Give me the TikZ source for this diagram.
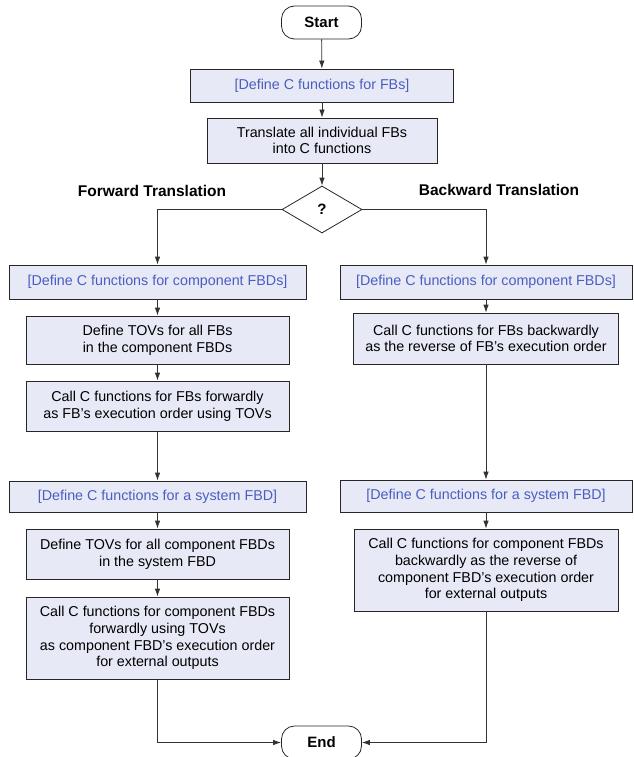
\documentclass[tikz,border=0pt]{standalone}
\usepackage{fontspec}
\setmainfont{Liberation Sans}
\usetikzlibrary{positioning, arrows.meta, shapes.geometric}
\definecolor{lila}{HTML}{E7E9F7}
\definecolor{azul}{HTML}{4A5EC0}
\definecolor{linea}{HTML}{333333}

\begin{document}
\begin{tikzpicture}[x=1pt, y=-1pt,
        link/.style={draw=linea, line width=0.8pt, -{Latex[length=8pt, width=5.5pt]}},
        box/.style={draw=black!85, line width=0.8pt, fill=lila, inner sep=0pt, align=center,
            font=\fontsize{14.3}{16.7}\selectfont},
        tag/.style={box, text=azul},
        term/.style={draw=black!85, line width=0.8pt, rounded corners=13pt, minimum width=80pt,
            minimum height=33pt, inner sep=0pt, font=\bfseries\fontsize{15}{18}\selectfont},
        side/.style={font=\bfseries\fontsize{15.5}{18}\selectfont}]
    \useasboundingbox (0,0) rectangle (633,757);
    % top part
    \node[term] (start) at (321.5,22.5) {Start};
    \node[tag, minimum width=263pt, minimum height=33pt] (defFB) at (322,85.5) {[Define C functions for FBs]};
    \node[box, minimum width=230pt, minimum height=45pt] (transl) at (322,140.5) {Translate all individual FBs\\into C functions};
    \node[diamond, draw=black!85, line width=0.8pt, minimum width=80pt, minimum height=47pt, inner sep=0pt,
        font=\bfseries\fontsize{15}{18}\selectfont] (dec) at (322,209.5) {?};
    \node[side] (fwd) at (152,191) {Forward Translation};
    \node[side] (bwd) at (499,190) {Backward Translation};
    % forward translation
    \node[tag, minimum width=297pt, minimum height=34pt] (compL) at (157.5,282) {[Define C functions for component FBDs]};
    \node[box, minimum width=263pt, minimum height=48pt] (tovL) at (157.5,340) {Define TOVs for all FBs\\in the component FBDs};
    \node[box, minimum width=263pt, minimum height=50pt] (callL) at (157.5,406) {Call C functions for FBs forwardly\\as FB's execution order using TOVs};
    \node[tag, minimum width=297pt, minimum height=31pt] (sysL) at (157.5,496.5) {[Define C functions for a system FBD]};
    \node[box, minimum width=263pt, minimum height=50pt] (tovsysL) at (157.5,554) {Define TOVs for all component FBDs\\in the system FBD};
    \node[box, minimum width=263pt, minimum height=82pt] (callsysL) at (157.5,638) {Call C functions for component FBDs\\forwardly using TOVs\\as component FBD's execution order\\for external outputs};
    % backward translation
    \node[tag, minimum width=292pt, minimum height=34pt] (compR) at (486,282) {[Define C functions for component FBDs]};
    \node[box, minimum width=265pt, minimum height=51pt] (callR) at (486,338.5) {Call C functions for FBs backwardly\\as the reverse of FB's execution order};
    \node[tag, minimum width=292pt, minimum height=32pt] (sysR) at (486,496) {[Define C functions for a system FBD]};
    \node[box, minimum width=264pt, minimum height=82pt] (callsysR) at (486,570) {Call C functions for component FBDs\\backwardly as the reverse of\\component FBD's execution order\\for external outputs};
    \node[term] (end) at (321.5,742.5) {End};
    % connectors
    \foreach \a/\b in {start/defFB, defFB/transl, transl/dec, compL/tovL, tovL/callL,
        callL/sysL, sysL/tovsysL, tovsysL/callsysL, compR/callR, callR/sysR, sysR/callsysR}
        \draw[link] (\a) -- (\b);
    \draw[link] (dec.west) -| (compL.north);
    \draw[link] (dec.east) -| (compR.north);
    \draw[link] (callsysL.south) |- (end.west);
    \draw[link] (callsysR.south) |- (end.east);
\end{tikzpicture}
\end{document}
